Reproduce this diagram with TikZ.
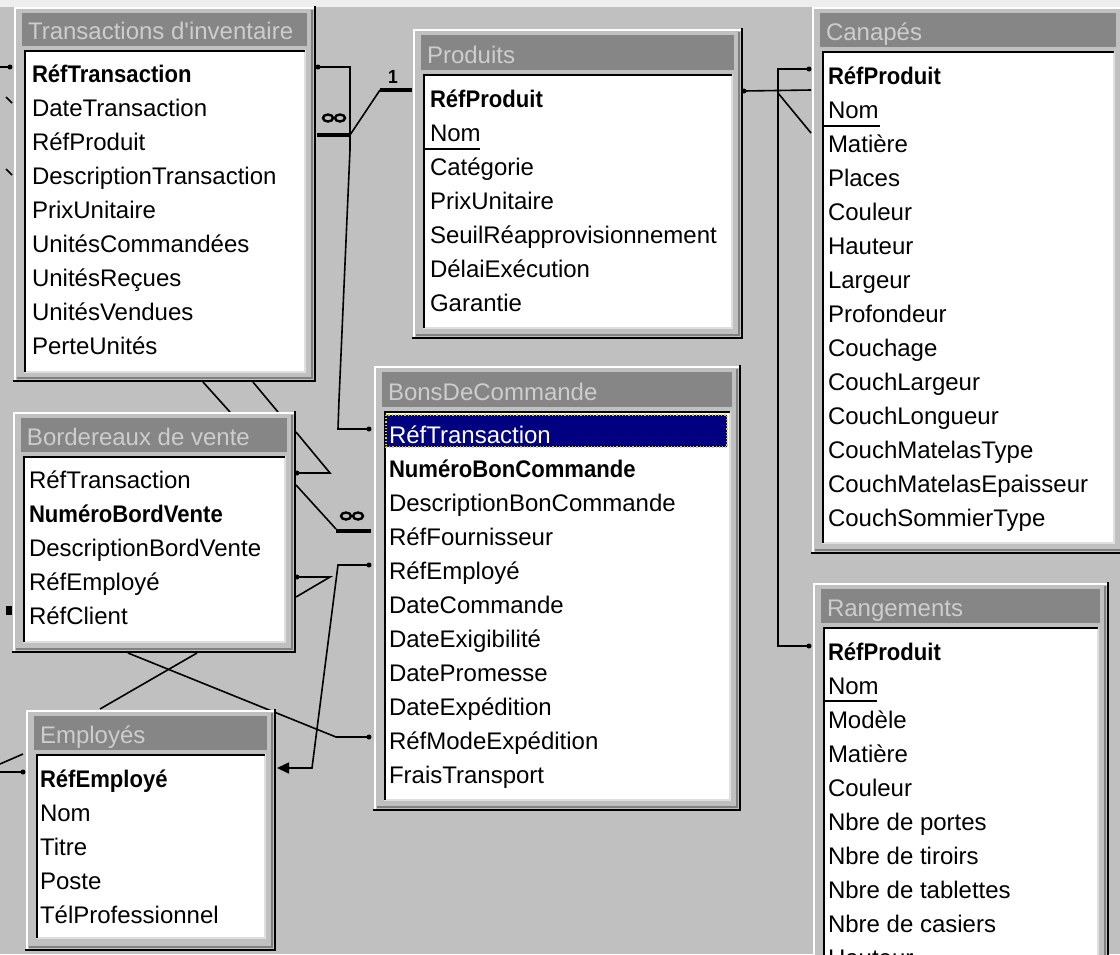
\documentclass[tikz,border=0pt]{standalone}
\usepackage{fontspec}
\setmainfont{Liberation Sans}[BoldFeatures={FakeStretch=0.92}]
\usetikzlibrary{arrows.meta}
\definecolor{winface}{HTML}{C0C0C0}
\definecolor{winshadow}{HTML}{808080}
\definecolor{winlight}{HTML}{DFDFDF}
\definecolor{capbar}{HTML}{868686}
\definecolor{captext}{HTML}{CDCDCD}
\definecolor{selnavy}{HTML}{000080}
\definecolor{topstrip}{HTML}{EEEEEE}
\tikzset{
  fieldtxt/.style={anchor=base west, inner sep=0pt, outer sep=0pt, font=\fontsize{24}{28}\selectfont, text=black},
  titletxt/.style={anchor=base west, inner sep=0pt, outer sep=0pt, font=\fontsize{24}{28}\selectfont, text=captext},
  rel/.style={line width=1.6pt, black, line join=miter},
  thickend/.style={line width=4.5pt, black},
  manysym/.style={line width=2.4pt, black},
  cardtxt/.style={font=\bfseries\fontsize{19}{20}\selectfont, inner sep=0pt, text=black},
}
\newcommand{\acctable}[9]{%
  \fill[winface] (#2,#3) rectangle (#4,#5);
  \draw[white, line width=2pt] (#2+1,#5-1) -- (#2+1,#3+1) -- (#4-1,#3+1);
  \draw[winshadow, line width=1.5pt] (#2+3,#5-3) -- (#4-3,#5-3) -- (#4-3,#3+3);
  \draw[black, line width=2.5pt] (#2-1,#5) -- (#4,#5) -- (#4,#3-1);
  \fill[capbar] (#2+8,#3+6) rectangle (#4-8,#6);
  \node[titletxt] (#1-title) at (#2+14,#6-7) {#9};
  \fill[white] (#2+10,#7) rectangle (#4-10,#8);
  \draw[winlight, line width=2pt] (#2+10,#8) -- (#4-10,#8) -- (#4-10,#7);
  \draw[black, line width=2pt] (#2+11,#8) -- (#2+11,#7+1) -- (#4-10,#7+1);
}
\newcommand{\fieldlist}[4]{%
  \foreach \ftxt [count=\fidx] in {#4} {
    \node[fieldtxt] (#1-\fidx) at (#2, {#3+34*(\fidx-1)}) {\ftxt};
  }
}
\begin{document}
\begin{tikzpicture}[x=1pt,y=-1pt]
\useasboundingbox (0,0) rectangle (1120,954);
\clip (0,0) rectangle (1120,954);
\fill[winface] (0,0) rectangle (1120,954);
\fill[topstrip] (0,0) rectangle (1120,7);

% ---------- connector points ----------
\coordinate (c1a) at (318,67);  \coordinate (c1b) at (350,67);
\coordinate (c1c) at (350,150); \coordinate (c1d) at (339,400);
\coordinate (c1e) at (338,429); \coordinate (c1f) at (369,429);

\coordinate (p1a) at (412,90); \coordinate (p1b) at (380,90);
\coordinate (t1a) at (350,135); \coordinate (t1b) at (317,135);

\coordinate (c3a) at (744,91);  \coordinate (c3b) at (811,90);
\coordinate (c3c) at (809,69);  \coordinate (c3d) at (778,69);
\coordinate (c3e) at (778,646); \coordinate (c3f) at (809,646);
\coordinate (c3g) at (778,93);  \coordinate (c3h) at (811,133);

\coordinate (c4a) at (0,67);  \coordinate (c4b) at (10,67);
\coordinate (c4c) at (6,97);  \coordinate (c4d) at (12,103);
\coordinate (c4e) at (6,169); \coordinate (c4f) at (12,175);

\coordinate (c5a) at (203,382); \coordinate (c5b) at (230,412);
\coordinate (c5c) at (253,382); \coordinate (c5d) at (278,412);

\coordinate (c6a) at (296,432); \coordinate (c6b) at (330,473); \coordinate (c6c) at (297,473);
\coordinate (c7a) at (296,485); \coordinate (c7b) at (336,529);
\coordinate (c7c) at (336,531); \coordinate (c7d) at (371,531);
\coordinate (c8a) at (297,577); \coordinate (c8b) at (330,577); \coordinate (c8c) at (296,597);

\coordinate (c9a) at (369,565); \coordinate (c9b) at (338,565);
\coordinate (c9c) at (312,768); \coordinate (c9d) at (277,768);

\coordinate (c10a) at (128,653); \coordinate (c10b) at (336,737); \coordinate (c10c) at (369,737);
\coordinate (c11a) at (197,653); \coordinate (c11b) at (100,709);
\coordinate (c13a) at (0,772); \coordinate (c13b) at (23,772);
\coordinate (c13c) at (0,764); \coordinate (c13d) at (23,754);
\coordinate (c14a) at (6,610); \coordinate (c14b) at (12,610);

% ---------- connectors ----------
\draw[rel] (c1a) -- (c1b) -- (c1c) -- (c1d) -- (c1e) -- (c1f);
\fill (c1a) circle (2.5); \fill (c1f) circle (2.5);

\draw[thickend] (p1a) -- (p1b);
\draw[rel] (p1b) -- (t1a);
\draw[thickend] (t1a) -- (t1b);
\node[cardtxt] (one) at (393,77) {1};
\draw[manysym] (328,118) ellipse [x radius=5, y radius=3.5];
\draw[manysym] (340,118) ellipse [x radius=5, y radius=3.5];

\draw[rel] (c3a) -- (c3b);
\fill (c3a) circle (2.5);
\draw[rel] (c3c) -- (c3d) -- (c3e) -- (c3f);
\fill (c3c) circle (2.5); \fill (c3f) circle (2.5);
\draw[rel] (c3g) -- (c3h);

\draw[rel] (c4a) -- (c4b); \fill (c4b) circle (2.5);
\draw[rel] (c4c) -- (c4d);
\draw[rel] (c4e) -- (c4f);

\draw[rel] (c5a) -- (c5b);
\draw[rel] (c5c) -- (c5d);

\draw[rel] (c6a) -- (c6b) -- (c6c); \fill (c6c) circle (2.5);
\draw[rel] (c7a) -- (c7b);
\draw[thickend] (c7c) -- (c7d);
\draw[manysym] (346,516) ellipse [x radius=5, y radius=3.5];
\draw[manysym] (358,516) ellipse [x radius=5, y radius=3.5];
\draw[rel] (c8a) -- (c8b) -- (c8c); \fill (c8a) circle (2.5);

\draw[rel, -{Triangle[length=12pt,width=11pt]}] (c9a) -- (c9b) -- (c9c) -- (c9d);
\fill (c9a) circle (2.5);

\draw[rel] (c10a) -- (c10b) -- (c10c); \fill (c10c) circle (2.5);
\draw[rel] (c11a) -- (c11b);
\draw[rel] (c13a) -- (c13b); \fill (c13b) circle (2.5);
\draw[rel] (c13c) -- (c13d);
\draw[line width=9pt] (c14a) -- (c14b);

% ---------- tables ----------
\acctable{trans}{14}{7}{315}{381}{46}{50}{372}{Transactions d\textquotesingle inventaire}
\fieldlist{trans}{32}{82}{\textbf{RéfTransaction},DateTransaction,RéfProduit,DescriptionTransaction,PrixUnitaire,UnitésCommandées,UnitésReçues,UnitésVendues,PerteUnités}

\acctable{prod}{413}{29}{742}{338}{70}{74}{328}{Produits}
\fieldlist{prod}{430}{107}{\textbf{RéfProduit},Nom,Catégorie,PrixUnitaire,SeuilRéapprovisionnement,DélaiExécution,Garantie}
\draw[black, line width=1.5pt] (423,149) -- (480,149);

\acctable{cana}{812}{7}{1124}{553}{47}{51}{543}{Canapés}
\fieldlist{cana}{828}{84}{\textbf{RéfProduit},Nom,Matière,Places,Couleur,Hauteur,Largeur,Profondeur,Couchage,CouchLargeur,CouchLongueur,CouchMatelasType,CouchMatelasEpaisseur,CouchSommierType}
\draw[black, line width=1.5pt] (823,126) -- (880,126);

\acctable{bdc}{374}{366}{740}{810}{407}{411}{800}{BonsDeCommande}
\fill[selnavy] (386,415) rectangle (727,447);
\draw[yellow!85!black, dotted, line width=1.2pt] (386,415) rectangle (727,447);
\fieldlist{bdc}{389}{443}{\textcolor{white}{RéfTransaction},\textbf{NuméroBonCommande},DescriptionBonCommande,RéfFournisseur,RéfEmployé,DateCommande,DateExigibilité,DatePromesse,DateExpédition,RéfModeExpédition,FraisTransport}

\acctable{bord}{13}{412}{295}{652}{452}{456}{642}{Bordereaux de vente}
\fieldlist{bord}{29}{488}{RéfTransaction,\textbf{NuméroBordVente},DescriptionBordVente,RéfEmployé,RéfClient}

\acctable{empl}{26}{710}{275}{950}{750}{754}{938}{Employés}
\fieldlist{empl}{40}{787}{\textbf{RéfEmployé},Nom,Titre,Poste,TélProfessionnel}

\acctable{rang}{813}{583}{1108}{1010}{623}{627}{1000}{Rangements}
\fieldlist{rang}{828}{660}{\textbf{RéfProduit},Nom,Modèle,Matière,Couleur,Nbre de portes,Nbre de tiroirs,Nbre de tablettes,Nbre de casiers,Hauteur}
\draw[black, line width=1.5pt] (823,701) -- (877,701);
\end{tikzpicture}
\end{document}
